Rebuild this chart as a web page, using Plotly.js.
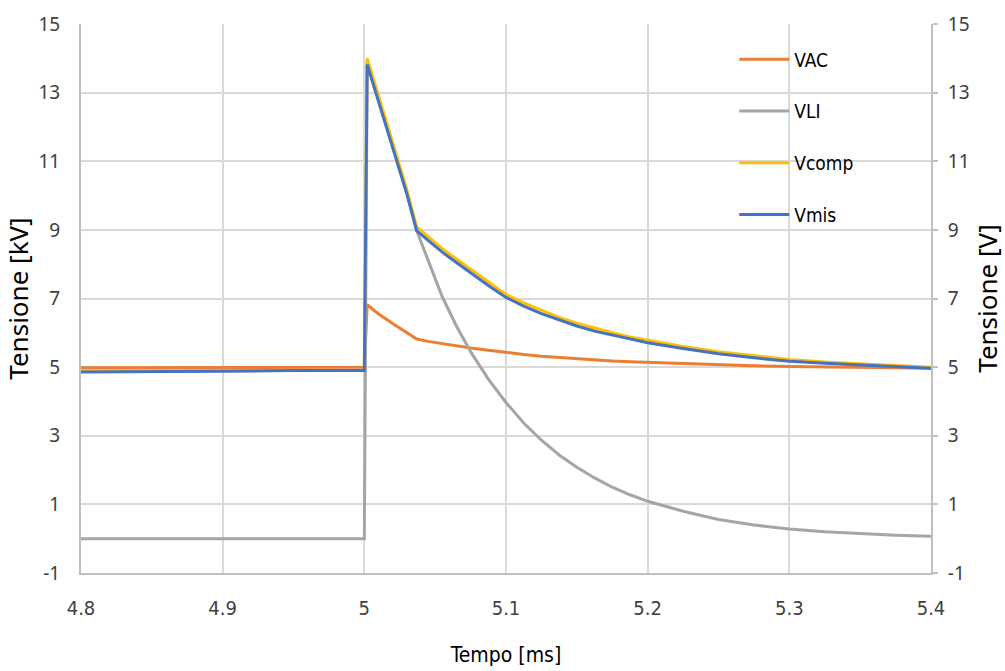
<!DOCTYPE html>
<html>
<head>
<meta charset="utf-8">
<script src="https://cdn.plot.ly/plotly-3.0.1.min.js"></script>
<style>html,body{margin:0;padding:0;background:#fff;}#chart{width:1005px;height:671px;}</style>
</head>
<body>
<div id="chart"></div>
<script>
// Time [ms]
const tempo = [4.8, 4.85, 4.9, 4.95, 5.0, 5.002, 5.01, 5.02, 5.03, 5.037,
  5.045, 5.055, 5.065, 5.075, 5.0875, 5.1, 5.1125, 5.125, 5.1375, 5.15, 5.1625, 5.175, 5.1875, 5.2,
  5.225, 5.25, 5.275, 5.3, 5.325, 5.35, 5.375, 5.4];
// Series values
const VAC   = [4.98, 4.98, 4.99, 5.0, 5.0, 6.82, 6.55, 6.27, 6.02, 5.82,
  5.75, 5.68, 5.62, 5.56, 5.49, 5.42, 5.37, 5.32, 5.28, 5.24, 5.21, 5.18, 5.16, 5.14,
  5.1, 5.07, 5.04, 5.02, 5.0, 4.99, 4.98, 4.97];
const VLI   = [0, 0, 0, 0, 0, 13.9, 12.8, 11.45, 10.07, 8.97,
  8.1, 7.05, 6.2, 5.45, 4.65, 3.97, 3.37, 2.87, 2.44, 2.08, 1.77, 1.5, 1.28, 1.09,
  0.8, 0.56, 0.4, 0.28, 0.2, 0.14, 0.1, 0.07];
const Vcomp = [4.9, 4.9, 4.9, 4.9, 4.9, 14.0, 12.88, 11.55, 10.17, 9.08,
  8.8, 8.45, 8.15, 7.85, 7.48, 7.12, 6.87, 6.65, 6.45, 6.28, 6.13, 6.0, 5.88, 5.78,
  5.6, 5.45, 5.33, 5.22, 5.15, 5.1, 5.04, 5.0];
const Vmis  = [4.86, 4.86, 4.88, 4.9, 4.9, 13.82, 12.75, 11.42, 10.05, 8.97,
  8.7, 8.35, 8.05, 7.75, 7.38, 7.03, 6.78, 6.56, 6.37, 6.2, 6.05, 5.93, 5.81, 5.71,
  5.54, 5.39, 5.27, 5.17, 5.11, 5.06, 5.01, 4.97];
// Tick labels
const yTickVals = [-1, 1, 3, 5, 7, 9, 11, 13, 15];
const yTickText = ['-1', '1', '3', '5', '7', '9', '11', '13', '15'];
const xTickVals = [4.8, 4.9, 5.0, 5.1, 5.2, 5.3, 5.4];
const xTickText = ['4.8', '4.9', '5', '5.1', '5.2', '5.3', '5.4'];

const names = ['VAC', 'VLI', 'Vcomp', 'Vmis'];
const series = [VAC, VLI, Vcomp, Vmis];
const colors = ['#ED7D31', '#A5A5A5', '#FFC000', '#4472C4'];
const widths = [3, 3, 3, 3];

const traces = series.map((s, i) => ({
  x: tempo, y: s, name: names[i], type: 'scatter', mode: 'lines',
  line: {color: colors[i], width: widths[i]},
  legendgroup: 'g' + i
}));
// secondary axis carries a copy of the measured voltage so that it is drawn
traces.unshift({
  x: tempo, y: Vmis, yaxis: 'y2', type: 'scatter', mode: 'lines',
  line: {color: 'rgba(0,0,0,0)', width: 0}, showlegend: false, hoverinfo: 'skip'
});

const narrow = 'DejaVu Sans Condensed, Liberation Sans Narrow, sans-serif';
const sans = 'Noto Sans, Open Sans, sans-serif';

const layout = {
  width: 1005, height: 671,
  margin: {l: 81, r: 74, t: 24, b: 98},
  paper_bgcolor: '#ffffff', plot_bgcolor: '#ffffff',
  showlegend: true,
  legend: {
    x: 0.7685, y: 0.97, xanchor: 'left', yanchor: 'top',
    bgcolor: 'rgba(0,0,0,0)', borderwidth: 0,
    font: {family: narrow, size: 19, color: '#000000'},
    tracegroupgap: 24, itemwidth: 50
  },
  xaxis: {
    range: [4.8, 5.4], tickvals: xTickVals, ticktext: xTickText,
    showgrid: true, gridcolor: '#D9D9D9', gridwidth: 2,
    showline: true, linecolor: '#BFBFBF', linewidth: 2,
    zeroline: false, ticks: '', ticklabelstandoff: 16,
    tickfont: {family: narrow, size: 20, color: '#404040'},
    title: {text: 'Tempo [ms]', font: {family: narrow, size: 21, color: '#000000'}, standoff: 28}
  },
  yaxis: {
    range: [-1, 15], tickvals: yTickVals, ticktext: yTickText,
    showgrid: true, gridcolor: '#D9D9D9', gridwidth: 2,
    showline: true, linecolor: '#BFBFBF', linewidth: 2,
    zeroline: false, ticks: '', ticklabelstandoff: 15,
    tickfont: {family: sans, size: 19, color: '#404040'},
    title: {text: 'Tensione [kV]', font: {family: sans, size: 26, color: '#000000'}, standoff: 4}
  },
  yaxis2: {
    overlaying: 'y', side: 'right', anchor: 'x',
    range: [-1, 15], tickvals: yTickVals, ticktext: yTickText,
    showgrid: false, zeroline: false,
    showline: true, linecolor: '#BFBFBF', linewidth: 2,
    ticks: 'outside', ticklen: 5, tickcolor: '#BFBFBF', tickwidth: 2,
    ticklabelstandoff: 6,
    tickfont: {family: sans, size: 19, color: '#404040'},
    title: {text: 'Tensione [V]', font: {family: sans, size: 26, color: '#000000'}, standoff: 11}
  }
};

Plotly.newPlot('chart', traces, layout, {staticPlot: true, displayModeBar: false});
</script>
</body>
</html>
